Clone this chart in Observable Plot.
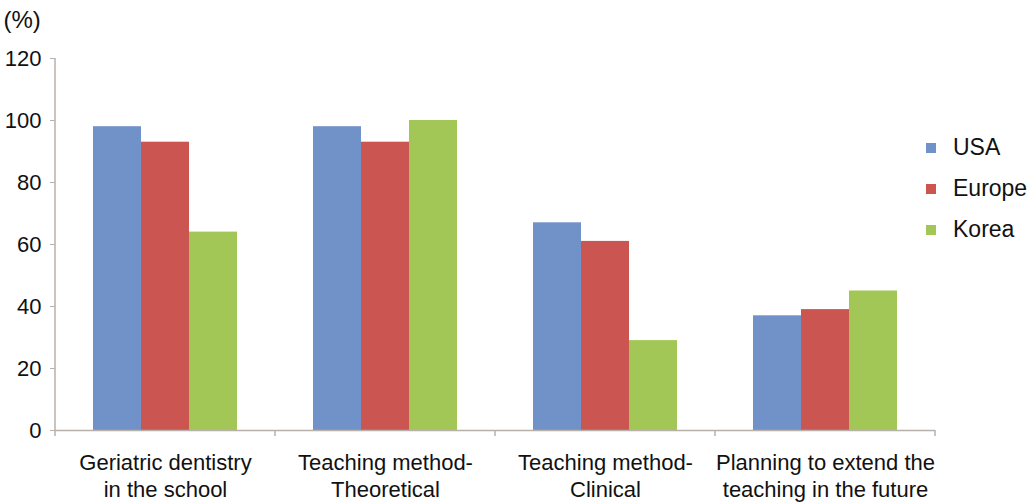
<!DOCTYPE html>
<html><head><meta charset="utf-8">
<script src="https://cdn.jsdelivr.net/npm/d3@7"></script>
<script src="https://cdn.jsdelivr.net/npm/@observablehq/plot@0.6"></script>
<style>
body{margin:0;background:#fff;font-family:"Liberation Sans",Arial,sans-serif;}
#wrap{position:relative;width:1036px;height:504px;}
#legend{position:absolute;left:926px;top:127px;}
.item{display:flex;align-items:center;height:41px;font-size:23px;color:#111}
.sw{width:10px;height:10px;margin-right:17px}
</style></head><body><div id="wrap"><div id="chart"></div><div id="legend"></div></div>
<script>
const categories = ["Geriatric dentistry\nin the school","Teaching method-\nTheoretical","Teaching method-\nClinical","Planning to extend the\nteaching in the future"];
const regions = ["USA","Europe","Korea"];
const usa = [98,98,67,37];
const europe = [93,93,61,39];
const korea = [64,100,29,45];
const colors = ["#7191c9","#cb5551","#a2c757"];
const yTicks = [0,20,40,60,80,100,120];
const yLabel = "(%)";

const series = {USA: usa, Europe: europe, Korea: korea};
const rows = [];
categories.forEach((c, i) => regions.forEach(r => rows.push({cat: c, region: r, value: series[r][i]})));

const axisColor = "#b8b0ab";
const plot = Plot.plot({
  width: 1036, height: 504,
  marginLeft: 55, marginRight: 101, marginTop: 58, marginBottom: 74,
  style: {fontFamily: '"Liberation Sans", Arial, sans-serif', fontSize: "22px", color: "#111", background: "#fff"},
  fx: {domain: categories, padding: 0, label: null},
  x: {domain: regions, paddingInner: 0, paddingOuter: 0.76, axis: null},
  y: {domain: [0, 120]},
  color: {domain: regions, range: colors},
  marks: [
    Plot.barY(rows, {fx: "cat", x: "region", y: "value", fill: "region"}),
    Plot.ruleY([0], {stroke: axisColor, strokeWidth: 1.5}),
    Plot.axisY({ticks: yTicks, tickSize: 5, tickPadding: 9, stroke: axisColor, fontSize: 22, label: null}),
    Plot.axisFx({anchor: "bottom", tickSize: 0, tickPadding: 20, fontSize: 22, lineHeight: 1.23, label: null}),
    Plot.text([yLabel], {facet: "super", frameAnchor: "top-left", textAnchor: "start", dx: -52, dy: -48, fontSize: 24, fill: "#111"})
  ]
});

// y axis line and boundary ticks between categories, from the scales
const fx = plot.scale("fx"), y = plot.scale("y");
const y0 = y.apply(0), yTop = y.apply(yTicks[yTicks.length - 1]);
const xs = categories.map(c => fx.apply(c));
xs.push(xs[xs.length - 1] + fx.bandwidth);
const g = d3.select(plot).append("g").attr("stroke", axisColor).attr("stroke-width", 1.5);
g.append("line").attr("x1", xs[0]).attr("x2", xs[0]).attr("y1", yTop).attr("y2", y0);
g.selectAll("line.b").data(xs).join("line").attr("class", "b")
  .attr("x1", d => d).attr("x2", d => d).attr("y1", y0).attr("y2", y0 + 6);

document.getElementById("chart").appendChild(plot);

const leg = d3.select("#legend");
regions.forEach((r, i) => {
  const it = leg.append("div").attr("class", "item");
  it.append("div").attr("class", "sw").style("background", colors[i]);
  it.append("span").text(r);
});
</script></body></html>
